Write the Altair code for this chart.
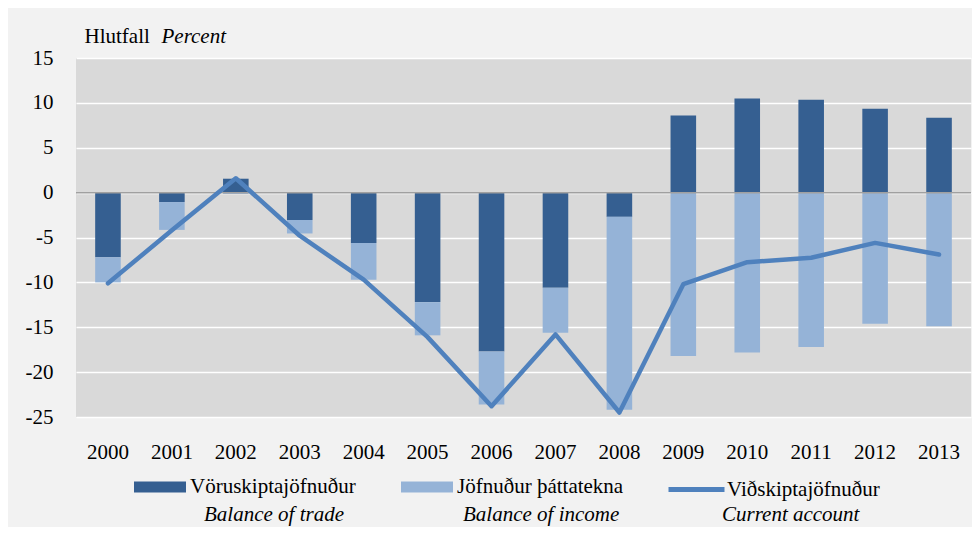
import altair as alt
import pandas as pd

years = [str(y) for y in range(2000, 2014)]
trade = [-7.2, -1.05, 1.55, -3.05, -5.6, -12.2, -17.7, -10.6, -2.7, 8.6, 10.5, 10.35, 9.35, 8.35]
income = [-2.8, -3.1, -0.15, -1.5, -4.1, -3.7, -5.9, -5.0, -21.5, -18.2, -17.8, -17.2, -14.6, -14.9]
current = [-10.1, -4.2, 1.6, -4.8, -9.7, -16.1, -23.8, -15.8, -24.5, -10.2, -7.75, -7.25, -5.6, -6.9]

is_names = ["Vöruskiptajöfnuður", "Jöfnuður þáttatekna", "Viðskiptajöfnuður"]
en_names = ["Balance of trade", "Balance of income", "Current account"]
y_ticks = [-25, -20, -15, -10, -5, 0, 5, 10, 15]

DARK = "#355F91"
LIGHT = "#95B3D7"
LINE = "#4F81BD"
FONT = "Liberation Serif"
FS = 21

rows = []
for i, yr in enumerate(years):
    rows.append({"year": yr, "series": is_names[0], "en": en_names[0], "value": trade[i], "ord": 0})
    rows.append({"year": yr, "series": is_names[1], "en": en_names[1], "value": income[i], "ord": 1})
bars_df = pd.DataFrame(rows)
line_df = pd.DataFrame({"year": years, "value": current, "series": is_names[2], "en": en_names[2]})
zero_df = pd.DataFrame({"value": [0]})

y_axis = alt.Axis(values=y_ticks, title="Hlutfall", titleAngle=0, titleAlign="left",
                  titleBaseline="alphabetic", titleX=8, titleY=-16, titleFont=FONT,
                  titleFontSize=FS, titleFontWeight="normal", titleColor="black",
                  labelFont=FONT, labelFontSize=FS, labelColor="black", labelPadding=23,
                  labelExpr="datum.value < 0 ? '-' + abs(datum.value) : '' + datum.value",
                  ticks=False, domain=False, grid=True, gridColor="white", gridWidth=1.5)
y_scale = alt.Scale(domain=[-25, 15], nice=False)
x_enc = alt.X("year:N", sort=years,
              scale=alt.Scale(paddingInner=0.6, paddingOuter=0.3),
              axis=alt.Axis(labelAngle=0, ticks=False, domain=False, grid=False,
                            labelFont=FONT, labelFontSize=FS, labelColor="black",
                            labelPadding=24,
                            title="Percent", titleX=85, titleY=-375, titleAlign="left",
                            titleAnchor="start", titleBaseline="alphabetic",
                            titleFont=FONT, titleFontSize=FS, titleFontStyle="italic",
                            titleFontWeight="normal", titleColor="black"))

opacity_enc = alt.Opacity("en:N", scale=alt.Scale(domain=en_names, range=[1, 1, 1]),
                          legend=alt.Legend(orient="none", legendX=107, legendY=446,
                                            direction="horizontal", title=None,
                                            symbolSize=0, symbolStrokeWidth=0,
                                            symbolOpacity=0, labelOffset=0,
                                            labelFont=FONT, labelFontSize=FS,
                                            labelFontStyle="italic", labelColor="black",
                                            labelLimit=400, gridAlign="all",
                                            columnPadding=81))

bars = alt.Chart(bars_df).mark_bar().encode(
    x=x_enc,
    y=alt.Y("value:Q", scale=y_scale, axis=y_axis, stack="zero"),
    color=alt.Color("series:N", scale=alt.Scale(domain=is_names[:2], range=[DARK, LIGHT]),
                    legend=alt.Legend(orient="none", legendX=58, legendY=403,
                                      direction="horizontal", title=None,
                                      symbolType="M-1,-0.2115H1V0.2115H-1Z",
                                      symbolSize=2704, symbolStrokeWidth=0,
                                      labelOffset=4, labelFont=FONT, labelFontSize=FS,
                                      labelColor="black", labelLimit=400,
                                      columnPadding=45)),
    order=alt.Order("ord:Q"),
    opacity=opacity_enc,
)

zero = alt.Chart(zero_df).mark_rule(color="#A0A0A0", strokeWidth=1.5).encode(
    y=alt.Y("value:Q", scale=y_scale, axis=y_axis)
)

line = alt.Chart(line_df).mark_line(strokeWidth=4.5, strokeCap="round", strokeJoin="round").encode(
    x=x_enc,
    y=alt.Y("value:Q", scale=y_scale, axis=y_axis),
    stroke=alt.Stroke("series:N", scale=alt.Scale(domain=[is_names[2]], range=[LINE]),
                      legend=alt.Legend(orient="none", legendX=590, legendY=401,
                                        direction="horizontal", title=None,
                                        symbolType="stroke", symbolSize=3136,
                                        symbolStrokeWidth=5, labelOffset=0,
                                        labelFont=FONT, labelFontSize=FS,
                                        labelColor="black", labelLimit=400)),
    opacity=opacity_enc,
)

chart = alt.layer(bars, zero, line).properties(
    width=895, height=359,
    autosize=alt.AutoSizeParams(type="none"),
    padding={"left": 68, "top": 50, "right": 1, "bottom": 110},
    background="#F2F2F2",
).resolve_scale(color="independent").configure_view(
    stroke=None, fill="#D9D9D9"
)

chart.save("out.html", embed_options={"renderer": "svg", "actions": False})
